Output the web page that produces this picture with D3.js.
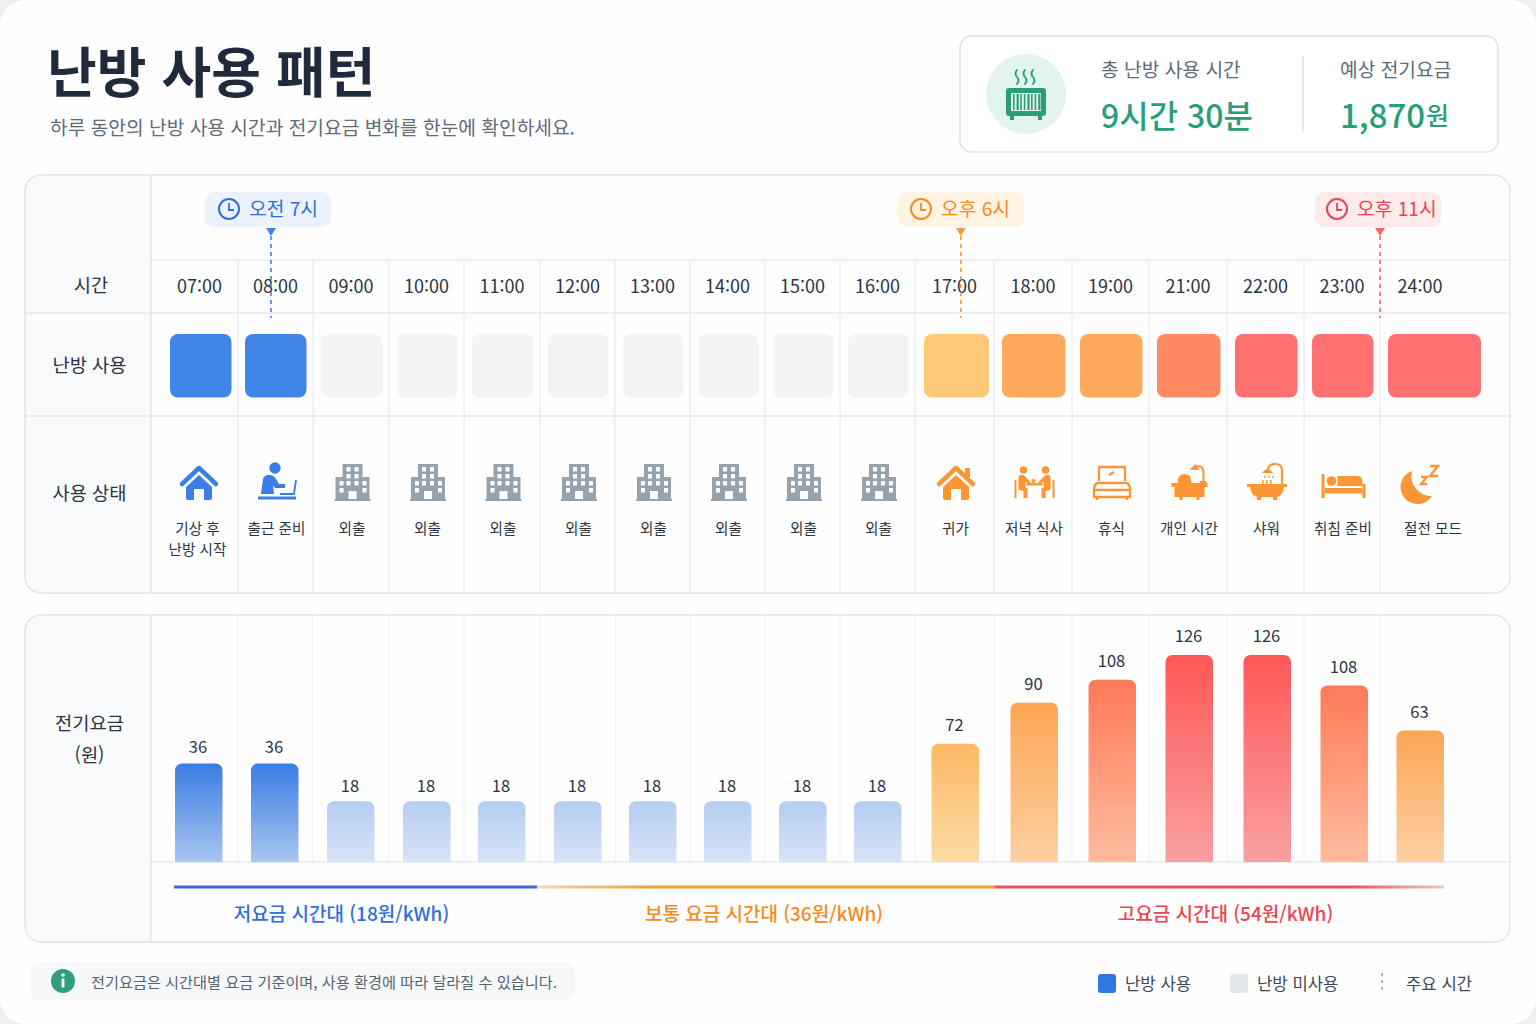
<!DOCTYPE html>
<html lang="ko">
<head>
<meta charset="utf-8">
<title>난방 사용 패턴</title>
<script src="https://d3js.org/d3.v7.min.js"></script>
<style>
html, body { margin: 0; padding: 0; background: #eef0f2; }
svg { display: block; }
text { font-family: "Noto Sans CJK KR", "Noto Sans", sans-serif; }
</style>
</head>
<body>
<div id="chart"></div>
<script>
var hours = ['07:00','08:00','09:00','10:00','11:00','12:00','13:00','14:00','15:00','16:00','17:00','18:00','19:00','21:00','22:00','23:00','24:00'];
var statusLabels = [['기상 후','난방 시작'],['출근 준비'],['외출'],['외출'],['외출'],['외출'],['외출'],['외출'],['외출'],['외출'],['귀가'],['저녁 식사'],['휴식'],['개인 시간'],['샤워'],['취침 준비'],['절전 모드']];
var statusIcons = ['home','work','out','out','out','out','out','out','out','out','back','dinner','rest','desk','shower','bed','moon'];
var tileTones = ['on','on','off','off','off','off','off','off','off','off','t1','t2','t2','t3','t4','t4','t4'];
var costs = [36,36,18,18,18,18,18,18,18,18,72,90,108,126,126,108,63];
// drawn bar heights, on the same won axis (the picture is not proportional to its labels)
var barLevels = [60,60,37,37,37,37,37,37,37,37,72,97,111,126,126,107.5,80];
var barTones = ['blue','blue','pale','pale','pale','pale','pale','pale','pale','pale','sand','amber','coral','red','red','coral','amber'];
var markerLabels = ['오전 7시','오후 6시','오후 11시'];
var markerSlots = [1.44,10.58,16];
var tierLabels = ['저요금 시간대 (18원/kWh)','보통 요금 시간대 (36원/kWh)','고요금 시간대 (54원/kWh)'];

var width = 1536, height = 1024;
var blue = '#2f6fd8', orange = '#f58a1f', red = '#ee4350', green = '#2a9d7c';
var ink = '#2b3542', grid = '#e4e8ee';

var colEdges = [151,238,313,389,464,540,615,690,765,840,915,994,1072,1149,1227,1304,1380,1510];
var xEdge = d3.scaleLinear().domain(d3.range(colEdges.length)).range(colEdges);
var yCost = d3.scaleLinear().domain([0,126]).range([862,655]);
var tileFill = d3.scaleOrdinal()
    .domain(['on','off','t1','t2','t3','t4'])
    .range(['#3f86e8','#f3f4f6','#ffc877','#ffa95c','#ff8a62','#ff7070']);
var barStops = d3.scaleOrdinal()
    .domain(['blue','pale','sand','amber','coral','red'])
    .range([['#3a7ce2','#a9c6f0'],['#b4cdf2','#d7e4f8'],['#fdb863','#fcdca6'],['#fda654','#fdd0a3'],['#ff7a59','#ffbc9e'],['#ff5757','#f9a0a0']]);

function colMid(i) { return (xEdge(i) + xEdge(i + 1)) / 2; }
function timeX(i) { return colMid(i) + (i == 0 ? 5 : i == 16 ? -25 : 0); }
function tileX0(i) { return xEdge(i) + (i == 0 ? 19 : i == 1 ? 7 : i == 10 ? 9 : 8); }
function tileX1(i) { return xEdge(i + 1) - (i == 16 ? 29 : i == 10 ? 5 : 6.5); }
function barX(i) { return xEdge(i) + (i == 0 ? 24 : i == 1 ? 13 : i < 10 ? 14 : 16.5); }
function labelX(i) { return colMid(i) + (i == 0 ? 3 : i == 16 ? -12 : 1); }
function iconX(i) { return colMid(i) + (i == 0 ? 4.5 : i == 16 ? -27 : 1.5); }

var svg = d3.select('#chart').append('svg')
    .attr('width', width)
    .attr('height', height)
    .attr('viewBox', `0 0 ${width} ${height}`);

var defs = svg.append('defs');

svg.append('rect').attr('width', width).attr('height', height).attr('rx', 26).attr('fill', '#fefefe');

function label(parent, x, y, str, size, color, weight, anchor) {
    return parent.append('text')
        .attr('x', x).attr('y', y)
        .attr('dominant-baseline', 'central')
        .attr('text-anchor', anchor || 'middle')
        .attr('font-size', size)
        .attr('font-weight', weight || 400)
        .attr('fill', color)
        .text(str);
}

// header
label(svg, 47, 69, '난방 사용 패턴', 54, '#1f2b3c', 700, 'start');
label(svg, 50, 126.5, '하루 동안의 난방 사용 시간과 전기요금 변화를 한눈에 확인하세요.', 19.2, '#5f6b78', 400, 'start');

svg.append('rect').attr('x', 960).attr('y', 36).attr('width', 538).attr('height', 116).attr('rx', 12)
    .attr('fill', '#fff').attr('stroke', '#dfe3ea').attr('stroke-width', 1.5);
svg.append('circle').attr('cx', 1026).attr('cy', 94).attr('r', 40).attr('fill', '#e3f4ee');
var heater = svg.append('g').attr('transform', 'translate(1026,94)').attr('fill', green);
heater.append('rect').attr('x', -20).attr('y', -6).attr('width', 40).attr('height', 28).attr('rx', 3);
heater.append('rect').attr('x', -16).attr('y', 22).attr('width', 4).attr('height', 4);
heater.append('rect').attr('x', 12).attr('y', 22).attr('width', 4).attr('height', 4);
heater.append('rect').attr('x', -15).attr('y', -1).attr('width', 30).attr('height', 18).attr('fill', '#e3f4ee');
d3.range(-13, 14, 3.6).forEach(function (dx, k) {
    heater.append('rect').attr('x', dx).attr('y', 0).attr('width', k % 3 == 1 ? 2.2 : 1.6).attr('height', 16);
});
[-8, 0, 8].forEach(function (dx) {
    heater.append('path').attr('d', `M${dx - 1} -24 q-3 3.5 0 7 q3 3.5 0 7`).attr('fill', 'none').attr('stroke', green).attr('stroke-width', 1.8).attr('stroke-linecap', 'round');
});

label(svg, 1101, 68.5, '총 난방 사용 시간', 19.2, '#5d6b7a', 400, 'start');
label(svg, 1101, 114, '9시간 30분', 32, green, 500, 'start');
svg.append('line').attr('x1', 1303).attr('x2', 1303).attr('y1', 56).attr('y2', 132).attr('stroke', '#d3d8df').attr('stroke-width', 1.2);
label(svg, 1340, 68.5, '예상 전기요금', 19.2, '#5d6b7a', 400, 'start');
label(svg, 1340, 114, '1,870', 33, green, 500, 'start')
    .append('tspan').attr('font-size', 25).attr('dx', 1).text('원');

// the two panels
function panel(y0, y1) {
    var g = svg.append('g');
    g.append('path')
        .attr('d', `M151 ${y0}H41a16 16 0 0 0 -16 16V${y1 - 16}a16 16 0 0 0 16 16H151Z`)
        .attr('fill', '#f8fafc');
    g.append('rect').attr('x', 25).attr('y', y0).attr('width', 1485).attr('height', y1 - y0).attr('rx', 16)
        .attr('fill', 'none').attr('stroke', '#dfe3ea').attr('stroke-width', 1.3);
    g.append('line').attr('x1', 151).attr('x2', 151).attr('y1', y0).attr('y2', y1).attr('stroke', '#dfe3ea').attr('stroke-width', 1.3);
    return g;
}
var topPanel = panel(175, 593);
var costPanel = panel(615, 942);

[260, 313, 416].forEach(function (y) {
    topPanel.append('line').attr('x1', y == 260 ? 151 : 25).attr('x2', 1510).attr('y1', y).attr('y2', y).attr('stroke', grid).attr('stroke-width', 1.3);
});
d3.range(1, 17).forEach(function (i) {
    topPanel.append('line').attr('x1', xEdge(i)).attr('x2', xEdge(i)).attr('y1', 260).attr('y2', 593).attr('stroke', grid);
    costPanel.append('line').attr('x1', xEdge(i)).attr('x2', xEdge(i)).attr('y1', 615).attr('y2', 862).attr('stroke', '#eceff3');
});
costPanel.append('line').attr('x1', 151).attr('x2', 1510).attr('y1', 862).attr('y2', 862).attr('stroke', grid).attr('stroke-width', 1.3);

label(svg, 91, 283.5, '시간', 18.7, ink);
label(svg, 89.5, 363.5, '난방 사용', 18.7, ink);
label(svg, 89.5, 491.5, '사용 상태', 18.7, ink);
label(svg, 89.5, 721.5, '전기요금', 18.7, ink);
label(svg, 89.5, 753.5, '(원)', 18.7, ink);

svg.append('g').selectAll('text').data(hours).enter().append('text')
    .attr('x', (d, i) => timeX(i))
    .attr('y', 285)
    .attr('dominant-baseline', 'central')
    .attr('text-anchor', 'middle')
    .attr('font-size', 18)
    .attr('fill', ink)
    .text(d => d);

// usage tiles
svg.append('g').selectAll('rect').data(tileTones).enter().append('rect')
    .attr('x', (d, i) => tileX0(i))
    .attr('y', 334)
    .attr('width', (d, i) => tileX1(i) - tileX0(i))
    .attr('height', 63.5)
    .attr('rx', 8)
    .attr('fill', d => tileFill(d));

// status icons
var iconDraw = {
    home: function (g) {
        g.append('path').attr('d', 'M-17 1L0 -15L17 1').attr('fill', 'none').attr('stroke', 'currentColor').attr('stroke-width', 4.5).attr('stroke-linecap', 'round').attr('stroke-linejoin', 'round');
        g.append('path').attr('d', 'M-13 4L0 -8L13 4V15a2 2 0 0 1 -2 2H5V6H-5V17H-11a2 2 0 0 1 -2 -2Z').attr('fill', 'currentColor');
    },
    back: function (g) {
        g.append('path').attr('d', 'M9 -15h5v9h-5Z').attr('fill', 'currentColor');
        iconDraw.home(g);
    },
    work: function (g) {
        g.append('circle').attr('cx', -2).attr('cy', -15).attr('r', 5.7).attr('fill', 'currentColor');
        g.append('path').attr('d', 'M-16 11L-14 -4Q-13 -8 -8 -8Q-3 -8 -1 -4L2 1H8V5H-2L-4 2L-3 11Z').attr('fill', 'currentColor');
        g.append('path').attr('d', 'M3 11H17L19 -3').attr('fill', 'none').attr('stroke', 'currentColor').attr('stroke-width', 1.8);
        g.append('rect').attr('x', -19).attr('y', 13.5).attr('width', 38).attr('height', 3).attr('fill', 'currentColor');
    },
    out: function (g) {
        g.append('rect').attr('x', -10).attr('y', -19).attr('width', 20).attr('height', 16).attr('fill', 'currentColor');
        g.append('rect').attr('x', -17).attr('y', -6).attr('width', 34).attr('height', 23).attr('fill', 'currentColor');
        g.append('rect').attr('x', -18).attr('y', 16).attr('width', 36).attr('height', 2).attr('fill', 'currentColor');
        [[-6,-16],[2,-16],[-6,-9],[2,-9],[-13,-2],[-6,-2],[2,-2],[10,-2],[-13,5],[10,5]].forEach(function (p) {
            g.append('rect').attr('x', p[0]).attr('y', p[1]).attr('width', 4).attr('height', 4.5).attr('fill', '#fff');
        });
        g.append('rect').attr('x', -4).attr('y', 8).attr('width', 8).attr('height', 8).attr('fill', '#fff');
    },
    dinner: function (g) {
        [-11, 11].forEach(function (dx) {
            var s = dx < 0 ? 1 : -1;
            g.append('circle').attr('cx', dx).attr('cy', -13).attr('r', 3.7).attr('fill', 'currentColor');
            g.append('path').attr('d', `M${dx - 5 * s} 7V-5Q${dx - 5 * s} -9 ${dx} -8L${dx + 7 * s} -1V1L${dx + 2 * s} -1V5H${dx + 4 * s}V15H${dx}V8Z`).attr('fill', 'currentColor');
            g.append('path').attr('d', `M${dx - 8 * s} -3V15`).attr('stroke', 'currentColor').attr('stroke-width', 2).attr('fill', 'none');
        });
        g.append('rect').attr('x', -8).attr('y', 0).attr('width', 16).attr('height', 2.5).attr('fill', 'currentColor');
        g.append('circle').attr('cx', -1).attr('cy', -2).attr('r', 2).attr('fill', 'currentColor');
    },
    rest: function (g) {
        g.append('path').attr('d', 'M-13 -2V-16H13V-2M-15 0H15Q18 2 18 6V14H-18V6Q-18 2 -15 0ZM-18 7H18M-15 14V17M15 14V17M-3 -8L2 -11')
            .attr('fill', 'none').attr('stroke', 'currentColor').attr('stroke-width', 2.3);
    },
    desk: function (g) {
        g.append('rect').attr('x', -18).attr('y', 0).attr('width', 36).attr('height', 4).attr('fill', 'currentColor');
        g.append('path').attr('d', 'M-15 4H15V14H10V17H7V14H-7V17H-10V14H-15Z').attr('fill', 'currentColor');
        g.append('path').attr('d', 'M-12 0Q-12 -9 -5 -9Q2 -9 2 0Z').attr('fill', 'currentColor');
        g.append('path').attr('d', 'M5 -16Q14 -19 14 -10V-1').attr('fill', 'none').attr('stroke', 'currentColor').attr('stroke-width', 2);
        g.append('path').attr('d', 'M0 -13L6 -19L10 -13Z').attr('fill', 'currentColor');
        g.append('rect').attr('x', 10).attr('y', -2).attr('width', 7).attr('height', 2).attr('fill', 'currentColor');
    },
    shower: function (g) {
        g.append('path').attr('d', 'M-20 1H20V4H17Q16 14 8 14H-8Q-16 14 -17 4H-20Z').attr('fill', 'currentColor');
        g.append('path').attr('d', 'M-10 14V17H-6V14ZM6 14V17H10V14Z').attr('fill', 'currentColor');
        g.append('path').attr('d', 'M15 1V-13Q15 -19 8 -19Q2 -19 1 -14').attr('fill', 'none').attr('stroke', 'currentColor').attr('stroke-width', 2.2);
        g.append('path').attr('d', 'M-5 -10Q1 -18 6 -10Z').attr('fill', 'currentColor');
        [[-3,-7],[1,-7],[5,-7],[-5,-3],[-1,-3],[3,-3],[-5,-1],[-1,-1],[3,-1]].forEach(function (p) {
            g.append('rect').attr('x', p[0]).attr('y', p[1]).attr('width', 1.7).attr('height', 1.7).attr('fill', 'currentColor');
        });
    },
    bed: function (g) {
        g.append('rect').attr('x', -22).attr('y', -9).attr('width', 3).attr('height', 24).attr('fill', 'currentColor');
        g.append('rect').attr('x', 19).attr('y', 1).attr('width', 3).attr('height', 14).attr('fill', 'currentColor');
        g.append('rect').attr('x', -19).attr('y', 5).attr('width', 38).attr('height', 5.5).attr('fill', 'currentColor');
        g.append('circle').attr('cx', -12).attr('cy', -2).attr('r', 4.8).attr('fill', 'currentColor');
        g.append('path').attr('d', 'M-6 -7H14Q19 -7 19 0V3H-6Z').attr('fill', 'currentColor');
    },
    moon: function (g) {
        g.append('path').attr('d', 'M-6 -12A17 17 0 1 0 14 13A20 20 0 0 1 -6 -12Z').attr('fill', 'currentColor');
        g.append('path').attr('d', 'M3 -6H9L3 1H9M12 -17H20L12 -7H20').attr('fill', 'none').attr('stroke', 'currentColor').attr('stroke-width', 2.4);
    }
};
var iconColor = { home: '#3a7ee6', work: '#3a7ee6', out: '#94a3ae' };

statusIcons.forEach(function (kind, i) {
    var g = svg.append('g')
        .attr('transform', `translate(${iconX(i)},483)`)
        .style('color', iconColor[kind] || '#fb9637');
    iconDraw[kind](g);
});

var statusGroups = svg.append('g').selectAll('g').data(statusLabels).enter().append('g');
statusGroups.each(function (lines, i) {
    lines.forEach(function (str, k) {
        label(d3.select(this), labelX(i), 527.5 + k * 21, str, 14.6, ink);
    }, this);
});

// cost bars
function topRounded(x, y, w, y0, r) {
    return `M${x} ${y0}V${y + r}a${r} ${r} 0 0 1 ${r} ${-r}H${x + w - r}a${r} ${r} 0 0 1 ${r} ${r}V${y0}Z`;
}
barStops.domain().forEach(function (tone) {
    var g = defs.append('linearGradient').attr('id', 'bar-' + tone).attr('x1', 0).attr('x2', 0).attr('y1', 0).attr('y2', 1);
    g.append('stop').attr('offset', 0).attr('stop-color', barStops(tone)[0]);
    g.append('stop').attr('offset', 1).attr('stop-color', barStops(tone)[1]);
});
svg.append('g').selectAll('path').data(barLevels).enter().append('path')
    .attr('d', (d, i) => topRounded(barX(i), yCost(d), 47.5, yCost(0), 7))
    .attr('fill', (d, i) => `url(#bar-${barTones[i]})`);

svg.append('g').selectAll('text').data(costs).enter().append('text')
    .attr('x', (d, i) => barX(i) + 23)
    .attr('y', (d, i) => yCost(barLevels[i]) - (d == 18 ? 16 : d == 36 ? 17.5 : d == 126 ? 20.5 : 19.5))
    .attr('dominant-baseline', 'central')
    .attr('text-anchor', 'middle')
    .attr('font-family', 'Inter, "Noto Sans", sans-serif')
    .attr('font-size', 16.5)
    .attr('fill', ink)
    .text(d => d);

// tier strip
var tierColors = [blue, orange, red];
var tierEnds = [barX(0) - 1, xEdge(5) - 3, xEdge(11) + 1, barX(16) + 47.5];
var tierGrad = [['#2f6fd8','#2f6fd8'],['#fcd9a8','#f59a3a'],['#ea5560','#f8c4c4']];
tierGrad.forEach(function (c, k) {
    var g = defs.append('linearGradient').attr('id', 'tier-' + k).attr('gradientUnits', 'userSpaceOnUse')
        .attr('x1', tierEnds[k]).attr('x2', tierEnds[k + 1]).attr('y1', 0).attr('y2', 0);
    g.append('stop').attr('offset', 0).attr('stop-color', c[0]);
    g.append('stop').attr('offset', k == 1 ? .25 : k == 2 ? .8 : 1).attr('stop-color', k == 2 ? c[0] : c[1]);
    g.append('stop').attr('offset', 1).attr('stop-color', c[1]);
    svg.append('rect').attr('x', tierEnds[k]).attr('y', 885.5).attr('width', tierEnds[k + 1] - tierEnds[k]).attr('height', 3).attr('fill', `url(#tier-${k})`);
});
var tierLabelX = [341.5, 764, 1225.5];
tierLabels.forEach(function (str, k) {
    label(svg, tierLabelX[k], 912, str, 19, tierColors[k], 500);
});

// key time markers
var markerFill = ['#eaf2fd', '#fff3e4', '#fdeaea'];
var markerArrow = ['#3f86e8', '#fb9637', '#f46464'];
var markerPill = [205, 898, 1315];
var markerClock = [24, 23, 22];
markerLabels.forEach(function (str, k) {
    var x = xEdge(markerSlots[k]);
    var g = svg.append('g');
    g.append('line').attr('x1', x).attr('x2', x).attr('y1', 236).attr('y2', 318)
        .attr('stroke', markerArrow[k]).attr('stroke-width', 1.6).attr('stroke-dasharray', '4 4');
    g.append('path').attr('d', `M${x - 5} 228H${x + 5}L${x} 236Z`).attr('fill', markerArrow[k]);
    g.append('rect').attr('x', markerPill[k]).attr('y', 192).attr('width', 126).attr('height', 35).attr('rx', 9).attr('fill', markerFill[k]);
    var cx = markerPill[k] + markerClock[k];
    g.append('circle').attr('cx', cx).attr('cy', 209).attr('r', 10).attr('fill', 'none').attr('stroke', tierColors[k]).attr('stroke-width', 2);
    g.append('path').attr('d', `M${cx} 203V210H${cx + 5}`).attr('fill', 'none').attr('stroke', tierColors[k]).attr('stroke-width', 1.8);
    label(g, cx + 20, 208, str, 19.2, tierColors[k], 400, 'start');
});

// footer note and legend
svg.append('rect').attr('x', 30).attr('y', 962).attr('width', 545).attr('height', 39).attr('rx', 10).attr('fill', '#f6f8fa');
svg.append('circle').attr('cx', 63).attr('cy', 981).attr('r', 12).attr('fill', '#2f9e7e');
svg.append('circle').attr('cx', 63).attr('cy', 975).attr('r', 1.8).attr('fill', '#fff');
svg.append('rect').attr('x', 61.6).attr('y', 978.5).attr('width', 2.8).attr('height', 9).attr('fill', '#fff');
label(svg, 91, 981, '전기요금은 시간대별 요금 기준이며, 사용 환경에 따라 달라질 수 있습니다.', 15.2, '#56636f', 400, 'start');

svg.append('rect').attr('x', 1098).attr('y', 974).attr('width', 18).attr('height', 19).attr('rx', 3).attr('fill', '#2f78e4');
label(svg, 1125, 982.5, '난방 사용', 16.7, '#3d4855', 400, 'start');
svg.append('rect').attr('x', 1230).attr('y', 974).attr('width', 18).attr('height', 19).attr('rx', 3).attr('fill', '#e2e7ec');
label(svg, 1257, 982.5, '난방 미사용', 16.7, '#3d4855', 400, 'start');
svg.append('line').attr('x1', 1382).attr('x2', 1382).attr('y1', 973).attr('y2', 994).attr('stroke', '#9aa3ad').attr('stroke-width', 1.6).attr('stroke-dasharray', '3 4');
label(svg, 1406, 982.5, '주요 시간', 16.7, '#3d4855', 400, 'start');
</script>
</body>
</html>
